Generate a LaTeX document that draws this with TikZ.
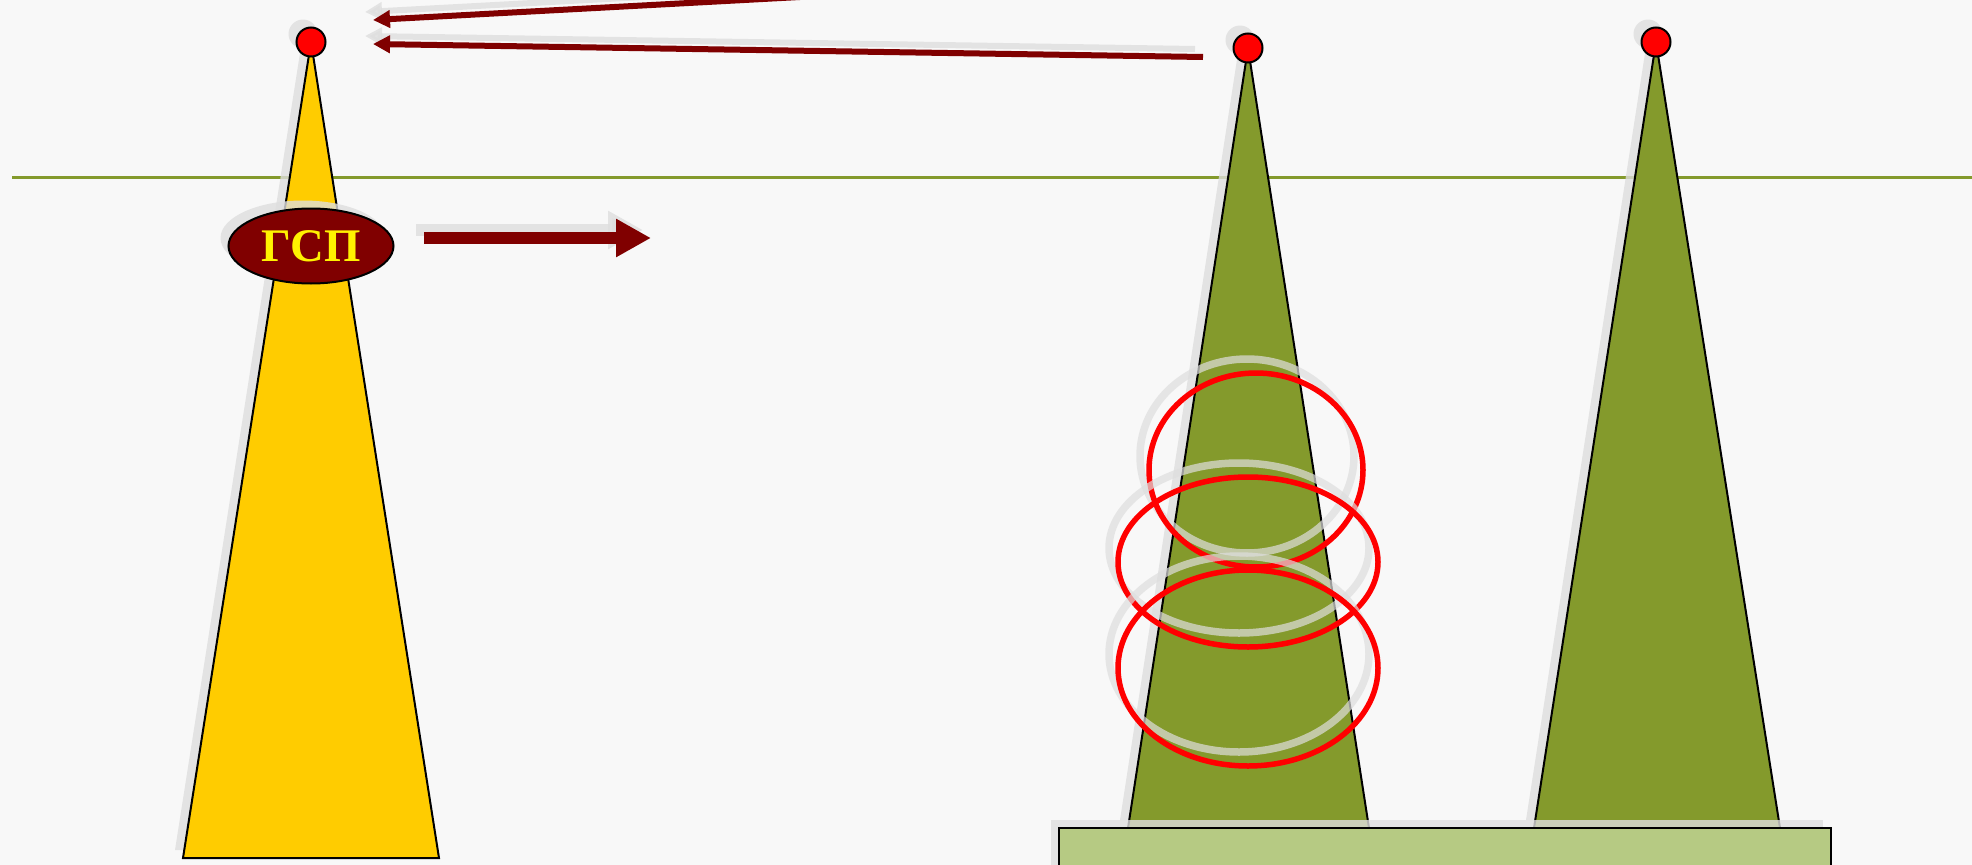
\documentclass[tikz,border=0pt]{standalone}
\usepackage{fontspec}
\setmainfont{Liberation Serif}
\usetikzlibrary{arrows.meta,shadows,shapes.geometric}
\definecolor{paper}{RGB}{248,248,248}
\definecolor{gold}{RGB}{255,204,0}
\definecolor{towergreen}{RGB}{132,154,44}
\definecolor{basegreen}{RGB}{182,202,131}
\definecolor{arrowred}{RGB}{128,0,0}
\definecolor{shadowgray}{RGB}{222,222,222}

\begin{document}
\begin{tikzpicture}[x=0.1mm,y=-0.1mm,
 ghosted/.style={drop shadow={shadow xshift=-0.8mm,shadow yshift=0.8mm,fill=shadowgray,opacity=0.8}},
 ghostcopy/.style={shadowgray,opacity=0.8,transform canvas={xshift=-0.8mm,yshift=0.8mm}},
 tower/.style={draw,line width=0.2mm,ghosted},
 dot/.style={circle,draw,fill=red,minimum size=2.9mm,inner sep=0pt,line width=0.2mm,ghosted},
 ring/.style={red,line width=0.55mm},
 ghostring/.style={shadowgray,opacity=0.7,line width=0.75mm,transform canvas={xshift=-0.9mm,yshift=1.4mm}},
 pointer/.style={arrowred,line width=0.6mm,-{Triangle[length=1.7mm,width=1.7mm]}},
 bigpointer/.style={arrowred,line width=1.23mm,-{Triangle[length=3.5mm,width=3.6mm]}}]
\useasboundingbox (0,0) rectangle (1972,865);
\clip (0,0) rectangle (1972,865);
\fill[paper] (0,0) rectangle (1972,865);
\draw[towergreen,line width=0.3mm] (12,177) -- (1972,177);

\coordinate (apexA) at (311,42);
\coordinate (apexB) at (1248,48);
\coordinate (apexC) at (1656,42);
\draw[tower,fill=gold] (apexA) -- (439,858) -- (183,858) -- cycle;
\draw[tower,fill=towergreen] (apexB) -- (1369,828) -- (1128,828) -- cycle;
\draw[tower,fill=towergreen] (apexC) -- (1780,828) -- (1534,828) -- cycle;
\node[dot] (dotA) at (apexA) {};
\node[dot] (dotB) at (apexB) {};
\node[dot] (dotC) at (apexC) {};

\node[ellipse,draw,fill=arrowred,line width=0.2mm,minimum width=16.5mm,minimum height=7.5mm,inner sep=0pt,
 text=yellow,font=\fontsize{13.3}{16}\selectfont\bfseries,ghosted] (gsp) at (311,246) {ГСП};

\coordinate (tailA) at (800,-3);
\coordinate (tipA) at (373,20);
\coordinate (tailB) at (1203,57);
\coordinate (tipB) at (373,44);
\coordinate (gspTail) at (424,238);
\coordinate (gspTip) at (651,238);
\draw[pointer,ghostcopy] (tailA) -- (tipA);
\draw[pointer,ghostcopy] (tailB) -- (tipB);
\draw[bigpointer,ghostcopy] (gspTail) -- (gspTip);
\draw[pointer] (tailA) -- (tipA);
\draw[pointer] (tailB) -- (tipB);
\draw[bigpointer] (gspTail) -- (gspTip);

\draw[ghostring] (1256,470) ellipse [x radius=107,y radius=97];
\draw[ring] (1256,470) ellipse [x radius=107,y radius=97];
\draw[ghostring] (1248,562) ellipse [x radius=130,y radius=85];
\draw[ring] (1248,562) ellipse [x radius=130,y radius=85];
\draw[ghostring] (1248,668) ellipse [x radius=130,y radius=98];
\draw[ring] (1248,668) ellipse [x radius=130,y radius=98];

\draw[ghosted,fill=basegreen,line width=0.2mm] (1059,828) rectangle (1831,900);
\end{tikzpicture}
\end{document}
